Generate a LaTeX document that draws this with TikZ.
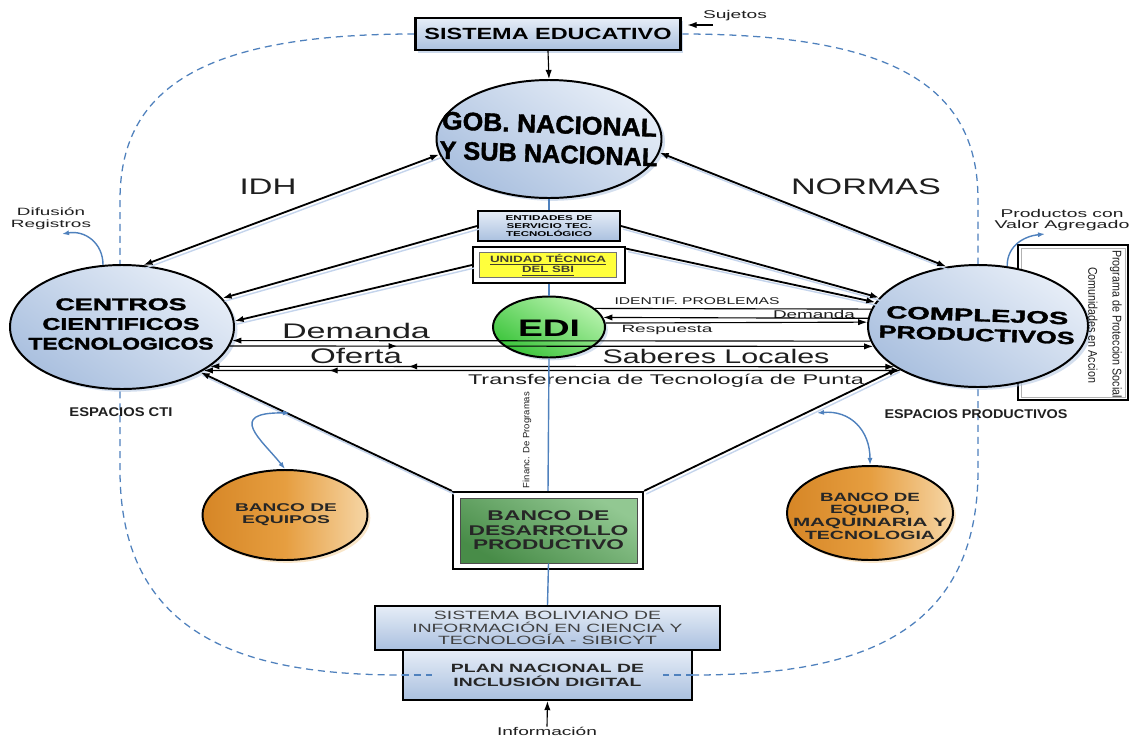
\documentclass[tikz,border=0pt]{standalone}
\usepackage{fontspec}
\setmainfont{Liberation Sans}
\newfontfamily\heavy{Liberation Sans}[BoldFeatures={FakeBold=1.6}]
\usetikzlibrary{shapes.geometric,arrows.meta,decorations.markings,shadows,calc}
\newdimen\pxu \pxu=0.025cm
% stretch a line of text horizontally to a given width (in drawing units)
\newcommand\hw[2]{\resizebox{#1\pxu}{\height}{#2}}
\newcommand\fs[2]{\fontsize{#1}{#2}\selectfont}
\definecolor{lbA}{RGB}{230,237,247}
\definecolor{lbB}{RGB}{170,192,223}
\definecolor{lbS}{RGB}{196,212,236}
\definecolor{lnblue}{RGB}{79,129,189}
\definecolor{orA}{RGB}{214,134,38}
\definecolor{orM}{RGB}{230,158,64}
\definecolor{orB}{RGB}{246,214,166}
\definecolor{grA}{RGB}{184,243,174}
\definecolor{grB}{RGB}{58,196,58}
\definecolor{dgA}{RGB}{146,200,146}
\definecolor{dgB}{RGB}{72,140,72}
\definecolor{yel}{RGB}{255,255,60}
\pgfdeclarelayer{bg}
\pgfsetlayers{bg,main}
\begin{document}
\begin{tikzpicture}[x=0.025cm, y=-0.025cm,
  >={Latex[length=6.5pt,width=4.5pt]},
  txt/.style={inner sep=0pt, align=center, text=black!88},
  bx/.style={rectangle, draw=black, line width=1.5pt, inner sep=0pt, align=center,
    top color=lbA, bottom color=lbB},
  oval/.style={ellipse, draw=black, line width=1.4pt, inner sep=0pt},
  bluecirc/.style={oval, top color=lbA, bottom color=lbB, shading angle=-35,
    drop shadow={shadow xshift=2.5pt, shadow yshift=-2pt, fill=lbB, opacity=0.5}},
  orangecirc/.style={oval, left color=orA, right color=orB, middle color=orM,
    drop shadow={shadow xshift=2pt, shadow yshift=-2pt, fill=orB, opacity=0.6}},
  lnk/.style={draw=black, line width=1.3pt,
    preaction={draw=lbS, line width=1pt, arrows=-, transform canvas={shift={(1.5pt,-2.2pt)}}}},
  lnkthin/.style={draw=black, line width=0.8pt},
  blueline/.style={draw=lnblue, line width=1pt},
  bluearrow/.style={draw=lnblue, line width=1pt, >={Latex[length=5pt,width=3.6pt]}},
  dashloop/.style={draw=lnblue, line width=0.9pt, dash pattern=on 5pt off 3.5pt},
  midR/.style={postaction={decorate}, decoration={markings,
    mark=at position #1 with {\arrow{Latex[length=6pt,width=4.5pt]}}}},
  midL/.style={postaction={decorate}, decoration={markings,
    mark=at position #1 with {\arrowreversed{Latex[length=6pt,width=4.5pt]}}}},
]
\useasboundingbox (0,0) rectangle (1136,737);

% ---------- main nodes ----------
\node[bx, minimum width=265*\pxu, minimum height=32*\pxu,
  drop shadow={shadow xshift=2pt, shadow yshift=-2pt, fill=lbB, opacity=0.6},
  font=\bfseries\fs{11.5}{12}] (sis) at (548,34) {\hw{247}{SISTEMA EDUCATIVO}};
\node[txt, font=\fs{8}{9}] (suj) at (735,16) {\hw{64}{Sujetos}};
\coordinate (sujA) at (713,25);

\node[bluecirc, minimum width=225*\pxu, minimum height=118*\pxu] (gob) at (549,139) {};
\node[txt, rotate=-2, text=black, font=\heavy\bfseries\fs{18}{21}] (gobT) at (gob.center)
  {\hw{215}{GOB. NACIONAL}\\\hw{218}{Y SUB NACIONAL}};

\node[bluecirc, minimum width=224*\pxu, minimum height=124*\pxu] (cct) at (122,327) {};
\node[txt, text=black, font=\heavy\bfseries\fs{12}{14}] (cctT) at (121,324)
  {\hw{131}{CENTROS}\\\hw{157}{CIENTIFICOS}\\\hw{185}{TECNOLOGICOS}};

\node[bluecirc, minimum width=220*\pxu, minimum height=122*\pxu] (cpr) at (978,326) {};
\node[txt, rotate=-2, text=black, font=\heavy\bfseries\fs{12.5}{14}] (cprT) at (977,325)
  {\hw{182}{COMPLEJOS}\\\hw{196}{PRODUCTIVOS}};

\node[bx, minimum width=142*\pxu, minimum height=30*\pxu, font=\bfseries\fs{5}{5.4}] (ent) at (549,226)
  {\hw{87}{ENTIDADES DE}\\\hw{85}{SERVICIO TEC.}\\\hw{86}{TECNOLÓGICO}};

\node[draw=black, line width=1.6pt, fill=white, inner sep=0pt,
  minimum width=152*\pxu, minimum height=36*\pxu] (uni) at (549,265) {};
\node[draw=black!55, line width=0.5pt, fill=yel, inner sep=0pt, align=center,
  minimum width=137*\pxu, minimum height=25*\pxu, text=black!70!olive,
  font=\bfseries\fs{6.5}{6.6}] (uniT) at (548,265)
  {\underline{\hw{116}{UNIDAD TÉCNICA}}\\\underline{\hw{52}{DEL SBI}}};

\node[oval, top color=grA, bottom color=grB, shading angle=-30,
  minimum width=112*\pxu, minimum height=61*\pxu,
  drop shadow={shadow xshift=2pt, shadow yshift=-2pt, fill=lbB, opacity=0.5}] (edi) at (549,327) {};
\node[txt, text=black, font=\bfseries\fs{17}{17}] (ediT) at (549,328) {\hw{62}{EDI}};

\node[draw=black, line width=1.6pt, fill=white, inner sep=0pt,
  minimum width=190*\pxu, minimum height=77*\pxu] (bdp) at (548,530.5) {};
\node[draw=black!70, line width=0.6pt, top color=dgA, bottom color=dgB, shading angle=-30,
  inner sep=0pt, align=center, minimum width=177*\pxu, minimum height=65*\pxu,
  text=black!85, font=\bfseries\fs{10}{10.3}] (bdpT) at (548.5,530.5)
  {\hw{122}{BANCO DE}\\\hw{160}{DESARROLLO}\\\hw{151}{PRODUCTIVO}};

\node[orangecirc, minimum width=165*\pxu, minimum height=90*\pxu] (beq) at (285,515) {};
\node[txt, text=black!85, font=\bfseries\fs{8}{8.6}] (beqT) at (286,515)
  {\hw{102}{BANCO DE}\\\hw{88}{EQUIPOS}};

\node[orangecirc, minimum width=166*\pxu, minimum height=94*\pxu] (bem) at (870,513) {};
\node[txt, text=black!85, font=\bfseries\fs{8.5}{9}] (bemT) at (870,516)
  {\hw{100}{BANCO DE}\\\hw{80}{EQUIPO,}\\\hw{154}{MAQUINARIA Y}\\\hw{130}{TECNOLOGIA}};

\node[bx, minimum width=345*\pxu, minimum height=44*\pxu, text=black!75,
  font=\fs{8.5}{8.9}] (sib) at (547.5,628)
  {\hw{227}{SISTEMA BOLIVIANO DE}\\\hw{270}{INFORMACIÓN EN CIENCIA Y}\\\hw{219}{TECNOLOGÍA - SIBICYT}};
\node[bx, minimum width=289*\pxu, minimum height=50*\pxu, text=black!85,
  font=\bfseries\fs{8.5}{10}] (plan) at (547.5,675)
  {\hw{193}{PLAN NACIONAL DE}\\\hw{188}{INCLUSIÓN DIGITAL}};
\node[txt, font=\fs{8}{9}] (info) at (547,731) {\hw{100}{Información}};

% ---------- background: white sheet, dashed boundary, side programme ----------
\begin{pgfonlayer}{bg}
\fill[white] (0,0) rectangle (1136,737);
\draw[dashloop] (sis.west) .. controls (200,34) and (120,90) .. (120,200)
  -- (120,470) .. controls (120,640) and (250,675) .. (plan.west);
\draw[dashloop] (sis.east) .. controls (900,34) and (978,90) .. (978,200)
  -- (978,470) .. controls (978,640) and (850,675) .. (plan.east);
\node[draw=black, line width=1.4pt, fill=white, inner sep=0pt,
  minimum width=110*\pxu, minimum height=155*\pxu] (prog) at (1073,322.5) {};
\draw[black!30, line width=0.6pt] ([shift={(4,4)}]prog.north west) rectangle ([shift={(-4,-4)}]prog.south east);
\end{pgfonlayer}
\draw[dashloop] (plan.west) -- ++(30,0);
\draw[dashloop] (plan.east) -- ++(-30,0);

\node[txt, rotate=-90, font=\fs{9}{10}] (progA) at (1116,324) {\hw{148}{Programa de Proteccion Social}};
\node[txt, rotate=-90, font=\fs{9}{10}] (progB) at (1093,325) {\hw{116}{Comunidades en Accion}};

% ---------- labels ----------
\node[txt, font=\fs{16}{16}] (idh) at (268,187) {\hw{57}{IDH}};
\node[txt, font=\fs{16}{16}] (nor) at (866,187) {\hw{150}{NORMAS}};
\node[txt, font=\fs{7.5}{8.5}] (dif) at (51,219) {\hw{68}{Difusión}\\\hw{80}{Registros}};
\node[txt, font=\fs{8}{8}] (pro) at (1062,220) {\hw{123}{Productos con}\\\hw{135}{Valor Agregado}};
\node[txt, font=\bfseries\fs{9}{9}] (ecti) at (121,412) {\hw{103}{ESPACIOS CTI}};
\node[txt, font=\bfseries\fs{9}{9}] (eprod) at (976,414) {\hw{183}{ESPACIOS PRODUCTIVOS}};
\node[txt, font=\fs{7}{7}] (idp) at (697,301) {\hw{165}{IDENTIF. PROBLEMAS}};
\node[txt, font=\fs{8}{8}] (dems) at (814,314) {\hw{82}{Demanda}};
\node[txt, font=\fs{7.5}{7.5}] (resp) at (667,330) {\hw{91}{Respuesta}};
\node[txt, font=\fs{15}{15}] (demb) at (356,331) {\hw{148}{Demanda}};
\node[txt, font=\fs{15}{15}] (ofe) at (356,356) {\hw{92}{Oferta}};
\node[txt, font=\fs{14}{14}] (sab) at (716,356) {\hw{227}{Saberes Locales}};
\node[txt, font=\fs{10}{10}] (tra) at (666,381) {\hw{396}{Transferencia de Tecnología de Punta}};
\node[txt, rotate=90, font=\fs{6.5}{7}] (fin) at (527,440) {\hw{96}{Financ. De Programas}};

\coordinate (difT) at (62,234);
\coordinate (proT) at (1045,234);
\coordinate (bqA) at (290,413);
\coordinate (bqB) at (817,413);

% ---------- connectors ----------
\draw[lnkthin,->] (sujA) -- ($(sis.east |- sujA)+(6,0)$);
\draw[lnkthin,->] (sis.south) -- (gob.north);
\draw[lnk,<->] (cct.71) -- (gob.188);
\draw[lnk,<->] (gob.-7) -- (cpr.118);

\draw[lnk,->] (ent.west) -- (cct.16);
\draw[lnk,->] (uni.west) -- (cct.3);
\draw[lnk,->] (ent.east) -- (cpr.164);
\draw[lnk,->] (uni.12) -- (cpr.167);

\draw[lnkthin] (edi.22) -- (cpr.171);
\draw[lnkthin,->] (cpr.176) -- (edi.10);
\draw[lnkthin,->] (edi.4) -- (cpr.178);

\draw[lnkthin,->] (cpr.188) -- (cct.-7);
\draw[lnkthin,->,midR=0.26] (cct.-10) -- (cpr.191);
\draw[lnkthin,<->,midL=0.29] (cct.-24) -- (cpr.206);
\draw[lnkthin,<->,midL=0.18] (cct.-28) -- (cpr.210);

\draw[lnk,->] (bdp.north west) -- (cct.-30);
\draw[lnk,->] (bdp.north east) -- (cpr.208);

\draw[blueline] (gob.south) -- (ent.north);
\draw[blueline] (uni.south) -- (edi.north);
\draw[blueline] (edi.south) -- (bdp.north);
\draw[blueline] (bdpT.south) -- (sib.north);
\draw[lnkthin,->] (info.north) -- (plan.south);

\draw[bluearrow,->] (cct.107) .. controls (103,243) and (85,230) .. (difT);
\draw[bluearrow,->] (cpr.64) .. controls (1007,245) and (1025,236) .. (proT);
\draw[bluearrow,<->] (bqA) .. controls (225,412) and (262,440) .. (beq.north);
\draw[bluearrow,<->] (bqB) .. controls (850,410) and (870,430) .. (bem.north);
\end{tikzpicture}
\end{document}
